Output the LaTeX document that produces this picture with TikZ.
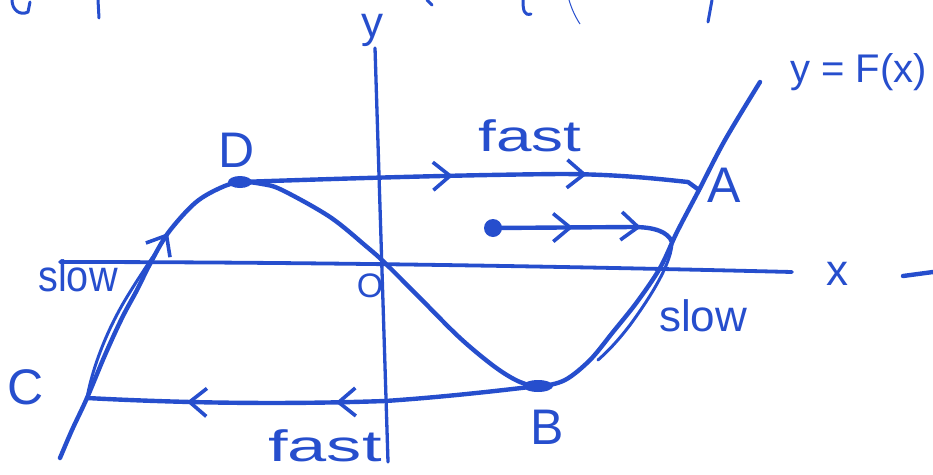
\documentclass[tikz,border=0pt]{standalone}
\usepackage{fontspec}
\usepackage{graphicx}
\setmainfont{Liberation Sans}
\usetikzlibrary{arrows.meta,decorations.markings}
\definecolor{ink}{RGB}{38,78,205}
\begin{document}
\begin{tikzpicture}[x=1pt,y=-1pt,
  pen/.style={draw=ink, line width=4.4pt, line cap=round, line join=round},
  thinpen/.style={draw=ink, line width=3pt, line cap=round, line join=round},
  lab/.style={text=ink, inner sep=0pt, font=\fontsize{44}{48}\selectfont},
  caplab/.style={text=ink, inner sep=0pt, font=\fontsize{50}{54}\selectfont},
  >={Straight Barb[length=17pt,width=28pt,line width=3.6pt]}
]
\useasboundingbox (0,0) rectangle (933,474);

% named points
\coordinate (D) at (240,182);
\coordinate (A) at (699,190);
\coordinate (B) at (538,386);
\coordinate (C) at (87,398);
\coordinate (O) at (383,263);
\coordinate (P) at (493,228);
\coordinate (L) at (672,242);
\coordinate (Ltip) at (168,233);
\coordinate (xl) at (60,262);
\coordinate (xr) at (792,272);
\coordinate (yb) at (388,462);
\coordinate (yt) at (375,48);

% axes
\draw[pen, line width=3.8pt] (xl) .. controls (300,262) and (550,266) .. (xr);
\draw[pen, line width=3.3pt] (yt) -- (yb);

% the curve y = F(x)
\draw[pen] plot[smooth, tension=0.55] coordinates {
 (60,458) (72,430) (87,398) (105,355) (122,318) (137,290) (150,264)
 (168,233) (195,203) (220,188) (240,182) (262,184) (282,190) (330,217)
 (367,247) (385,263) (420,298) (460,338) (495,367) (520,382) (540,386)
 (565,380) (590,360) (613,332) (637,302) (660,268) (677,232) (699,190)
 (725,140) (760,82)};

% blobs
\fill[ink] (D) ellipse [x radius=12, y radius=6];
\fill[ink] (B) ellipse [x radius=15, y radius=6];
\fill[ink] (P) circle [radius=9];

% top fast jump D -> A
\path[pen, decoration={markings,
   mark=at position 213pt with {\arrow{>}},
   mark=at position 347pt with {\arrow{>}}}, postaction={decorate}]
  (D) .. controls (330,179) and (450,175) .. (560,174)
      .. controls (620,174) and (668,180) .. (688,182) -- (A);

% bottom fast jump B -> C
\path[pen, decoration={markings,
   mark=at position 203pt with {\arrow{>}},
   mark=at position 352pt with {\arrow{>}}}, postaction={decorate}]
  (B) .. controls (480,393) and (430,398) .. (385,401)
      .. controls (300,404) and (200,404) .. (C);

% trajectory from the dot
\path[pen, decoration={markings,
   mark=at position 80pt with {\arrow{>}},
   mark=at position 148pt with {\arrow{>}}}, postaction={decorate}]
  (P) -- (633,227) .. controls (655,227) and (668,232) .. (L);

% slow motion along the branches (doubled strokes)
\draw[thinpen] (L) .. controls (672,262) and (652,295) .. (630,325)
   .. controls (617,342) and (607,352) .. (598,360);
\draw[thinpen, ->] (C) .. controls (92,370) and (106,330) .. (130,292)
   .. controls (146,266) and (158,250) .. (Ltip);

% labels
\node[lab] (ylab) at (372,30) {y};
\node[lab] (xlab) at (837,274) {x};
\node[text=ink, inner sep=0pt, font=\fontsize{34}{36}\selectfont] (Olab) at (370,286) {O};
\node[caplab] (Dlab) at (237,150) {D};
\node[caplab] (Alab) at (724,185) {A};
\node[caplab] (Blab) at (547,427) {B};
\node[caplab] (Clab) at (26,387) {C};
\node[lab, font=\fontsize{44}{48}\selectfont] (slowl) at (78,276) {\scalebox{0.9}[1]{slow}};
\node[lab] (slowr) at (703,316) {slow};
\node[lab] (fastt) at (530,136) {\scalebox{1.45}[1]{fast}};
\node[lab] (fastb) at (325,446) {\scalebox{1.6}[1]{fast}};
\node[lab, font=\fontsize{40}{44}\selectfont, anchor=west] (Flab) at (790,72) {y = F(x)};

% cut-off fragments at the edges
\draw[thinpen] (12,0) .. controls (12,10) and (20,16) .. (28,12) -- (30,2);
\draw[thinpen] (98,0) -- (99,18);
\draw[thinpen] (427,0) -- (432,5);
\draw[thinpen] (523,0) .. controls (523,10) and (524,16) .. (531,14);
\draw[ink, line width=1pt] (569,0) .. controls (572,10) and (576,18) .. (580,24);
\draw[thinpen] (712,0) -- (708,22);
\draw[pen] (903,276) -- (933,272);
\end{tikzpicture}
\end{document}
